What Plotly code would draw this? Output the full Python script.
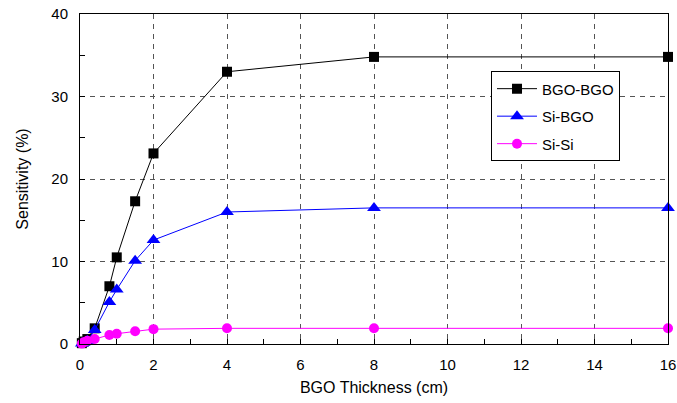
import plotly.graph_objects as go

thickness = [0.05, 0.1, 0.2, 0.4, 0.8, 1.0, 1.5, 2, 4, 8, 16]
bgo_bgo = [0.1, 0.3, 0.6, 1.9, 7.0, 10.5, 17.3, 23.1, 33.0, 34.8, 34.8]
si_bgo = [0.05, 0.15, 0.4, 1.7, 5.1, 6.6, 10.1, 12.6, 16.0, 16.5, 16.5]
si_si = [0.05, 0.2, 0.4, 0.6, 1.1, 1.25, 1.55, 1.8, 1.9, 1.9, 1.9]

series = [
    ("BGO-BGO", bgo_bgo, "black", "square", 10),
    ("Si-BGO", si_bgo, "blue", "triangle-up", 12),
    ("Si-Si", si_si, "magenta", "circle", 10),
]

fig = go.Figure()
for i, (name, vals, col, sym, sz) in enumerate(series):
    fig.add_trace(go.Scatter(
        x=thickness, y=vals, name=name, mode="lines+markers",
        line=dict(color=col, width=1),
        marker=dict(symbol=sym, size=sz, color=col),
        legendgroup=f"g{i}", cliponaxis=False,
    ))

font = "Liberation Sans, Arial, Helvetica, sans-serif"
fig.update_layout(
    width=677, height=403,
    margin=dict(l=80, r=9, t=14, b=59, autoexpand=False),
    paper_bgcolor="white", plot_bgcolor="white",
    font=dict(family=font, size=15, color="black"),
    showlegend=True,
    legend=dict(
        x=0.699, y=0.826, xanchor="left", yanchor="top",
        bordercolor="black", borderwidth=1, bgcolor="white",
        font=dict(size=15), tracegroupgap=5, itemwidth=40,
    ),
    xaxis=dict(
        range=[0, 16], dtick=2, tick0=0, automargin=False,
        showline=True, linecolor="black", linewidth=1, mirror=True,
        ticks="inside", ticklen=5, tickcolor="black",
        showgrid=True, gridcolor="#555555", griddash="5px,5px", gridwidth=1,
        zeroline=False, ticklabelstandoff=7,
        minor=dict(dtick=1, ticks="inside", ticklen=5, tickcolor="black", showgrid=False),
        title=dict(text="BGO Thickness (cm)", font=dict(size=16), standoff=9),
        tickfont=dict(size=15),
    ),
    yaxis=dict(
        range=[0, 40], dtick=10, tick0=0, automargin=False,
        showline=True, linecolor="black", linewidth=1, mirror=True,
        ticks="inside", ticklen=5, tickcolor="black",
        showgrid=True, gridcolor="#555555", griddash="5px,5px", gridwidth=1,
        zeroline=False, ticklabelstandoff=8,
        minor=dict(dtick=5, ticks="inside", ticklen=5, tickcolor="black", showgrid=False),
        title=dict(text="Sensitivity (%)", font=dict(size=16), standoff=18),
        tickfont=dict(size=15),
    ),
)

fig.write_html("out.html")
